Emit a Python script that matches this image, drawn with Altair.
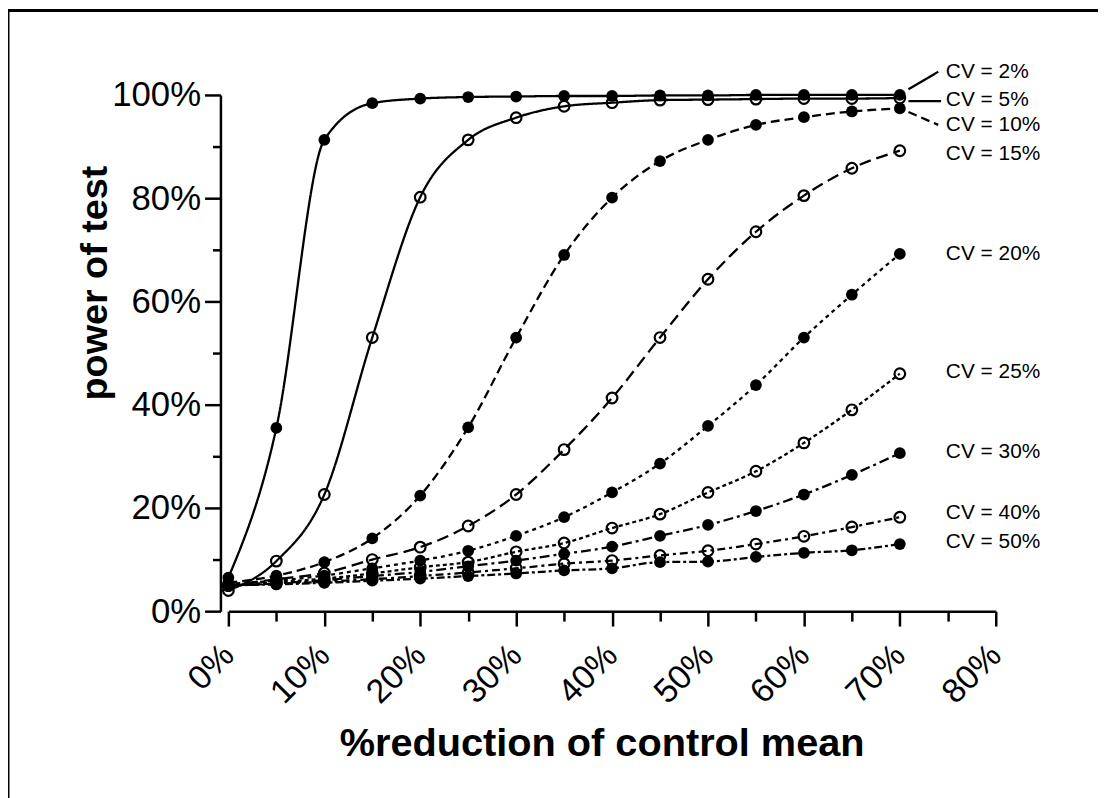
import altair as alt
import pandas as pd

# ---- data ----
reduction = [0, 5, 10, 15, 20, 25, 30, 35, 40, 45, 50, 55, 60, 65, 70]

cv_names = ["CV = 2%", "CV = 5%", "CV = 10%", "CV = 15%", "CV = 20%",
            "CV = 25%", "CV = 30%", "CV = 40%", "CV = 50%"]

cv2 = [6.5, 35.5, 91.3, 98.4, 99.3, 99.6, 99.7, 99.8, 99.8, 99.9, 99.9, 100, 100, 100, 100]
cv5 = [4.0, 9.7, 22.6, 53.0, 80.2, 91.3, 95.6, 97.8, 98.5, 99.0, 99.1, 99.2, 99.3, 99.3, 99.4]
cv10 = [5.5, 6.9, 9.5, 14.1, 22.4, 35.6, 53.0, 69.0, 80.1, 87.2, 91.3, 94.2, 95.7, 96.8, 97.4]
cv15 = [5.0, 6.2, 7.4, 10.0, 12.4, 16.5, 22.6, 31.3, 41.3, 53.0, 64.3, 73.5, 80.5, 85.8, 89.2]
cv20 = [5.3, 5.9, 6.9, 8.3, 9.8, 11.7, 14.6, 18.2, 23.0, 28.6, 35.9, 43.8, 53.0, 61.3, 69.2]
cv25 = [5.0, 5.6, 6.3, 7.3, 8.5, 9.5, 11.5, 13.2, 16.1, 18.8, 23.0, 27.1, 32.6, 39.0, 46.0]
cv30 = [5.0, 5.4, 6.0, 6.8, 7.6, 8.7, 9.8, 11.1, 12.5, 14.6, 16.7, 19.4, 22.6, 26.4, 30.6]
cv40 = [5.0, 5.3, 5.7, 6.2, 6.8, 7.5, 8.3, 9.2, 9.8, 10.8, 11.7, 13.0, 14.5, 16.3, 18.2]
cv50 = [5.0, 5.2, 5.5, 5.9, 6.3, 6.8, 7.3, 7.9, 8.3, 9.5, 9.6, 10.5, 11.3, 11.8, 13.0]

series = [cv2, cv5, cv10, cv15, cv20, cv25, cv30, cv40, cv50]
filled_series = ["CV = 2%", "CV = 10%", "CV = 20%", "CV = 30%", "CV = 50%"]

# label placement (data units) and leader lines
label_x = 74.8
label_y = [104.4, 99.0, 94.2, 88.5, 69.2, 46.3, 30.8, 19.0, 13.3]
leader_x1 = [70.9, 70.9, 70.9]
leader_x2 = [74.0, 74.3, 74.0]
leader_y1 = [101.1, 98.8, 96.7]
leader_y2 = [104.5, 98.8, 94.2]
leader_cv = ["CV = 2%", "CV = 5%", "CV = 10%"]

x_ticks = list(range(0, 85, 5))
y_ticks = list(range(0, 110, 10))

dashes = [[1, 0], [1, 0], [9, 5], [12, 6], [4, 4], [4, 3], [10, 4, 3, 4], [8, 4, 3, 4], [3, 3, 8, 3]]

rows = []
for name, vals in zip(cv_names, series):
    for x, v in zip(reduction, vals):
        rows.append({"cv": name, "x": x, "y": v, "filled": name in filled_series})
df = pd.DataFrame(rows)

labels_df = pd.DataFrame({"cv": cv_names, "x": [label_x] * len(cv_names), "y": label_y})
leader_df = pd.DataFrame({"cv": leader_cv, "x": leader_x1, "x2": leader_x2,
                          "y": leader_y1, "y2": leader_y2})

FONT = "Liberation Sans"
W, H = 773, 520

xscale = alt.Scale(domain=[0, 80], nice=False, zero=False)
yscale = alt.Scale(domain=[0, 100], nice=False, zero=False)
dash_scale = alt.Scale(domain=cv_names, range=dashes)

x_axis = alt.Axis(
    values=x_ticks,
    labelExpr="datum.value % 10 === 0 ? datum.value + '%' : ''",
    tickSize={"condition": {"test": "datum.value % 10 === 0", "value": 15}, "value": 10},
    labelAngle=315, labelAlign="right", labelBaseline="middle",
    labelFont=FONT, labelFontSize=34, labelColor="black", labelPadding=24,
    title="%reduction of control mean", titleFont=FONT, titleFontSize=40,
    titleFontWeight="bold", titleColor="black", titleX=376, titleY=133,
    titleBaseline="middle", titleAnchor="middle",
    domainColor="black", domainWidth=2.5, tickColor="black", tickWidth=2.5,
    grid=False, labelOverlap=False, labelFlush=False,
)
y_axis = alt.Axis(
    values=y_ticks,
    labelExpr="datum.value % 20 === 0 ? datum.value + '%' : ''",
    tickSize={"condition": {"test": "datum.value % 20 === 0", "value": 16}, "value": 8},
    labelFont=FONT, labelFontSize=35, labelColor="black", labelPadding=4,
    title="power of test", titleFont=FONT, titleFontSize=38, titleFontWeight="bold",
    titleColor="black", titleAngle=270, titleX=-126, titleY=189,
    titleBaseline="middle", titleAlign="center",
    domainColor="black", domainWidth=2.5, tickColor="black", tickWidth=2.5,
    grid=False, offset=8, labelOverlap=False, labelFlush=False,
)

base = alt.Chart(df)

lines = base.mark_line(interpolate="monotone", color="black", strokeWidth=2.3).encode(
    x=alt.X("x:Q", scale=xscale, axis=x_axis),
    y=alt.Y("y:Q", scale=yscale, axis=y_axis),
    detail="cv:N",
    strokeDash=alt.StrokeDash("cv:N", scale=dash_scale, legend=None),
)

pts_filled = base.transform_filter("datum.filled").mark_point(
    shape="circle", filled=True, color="black", size=140, opacity=1
).encode(x="x:Q", y="y:Q")

pts_open = base.transform_filter("!datum.filled").mark_point(
    shape="circle", filled=False, color="black", size=115, strokeWidth=2.2, opacity=1
).encode(x="x:Q", y="y:Q")

labels = alt.Chart(labels_df).mark_text(
    align="left", baseline="middle", font=FONT, fontSize=21, color="black"
).encode(x="x:Q", y="y:Q", text="cv:N")

leaders = alt.Chart(leader_df).mark_rule(color="black", strokeWidth=2.3).encode(
    x="x:Q", x2="x2:Q", y="y:Q", y2="y2:Q",
    strokeDash=alt.StrokeDash("cv:N", scale=dash_scale, legend=None),
)

frame_top = alt.Chart(pd.DataFrame({"k": [0]})).mark_rule(color="black", strokeWidth=3).encode(
    x=alt.value(-222), x2=alt.value(880), y=alt.value(-85)
)
frame_left = alt.Chart(pd.DataFrame({"k": [0]})).mark_rule(color="black", strokeWidth=3).encode(
    x=alt.value(-222), y=alt.value(-86), y2=alt.value(710)
)

chart = alt.layer(lines, leaders, pts_open, pts_filled, labels, frame_top, frame_left).properties(
    width=W, height=H,
    autosize=alt.AutoSizeParams(type="none"),
    padding={"left": 222, "top": 84.7, "right": 103, "bottom": 185.3},
    background="white",
).configure_view(stroke=None)

chart.save("out.html", embed_options={"renderer": "svg", "actions": False})
